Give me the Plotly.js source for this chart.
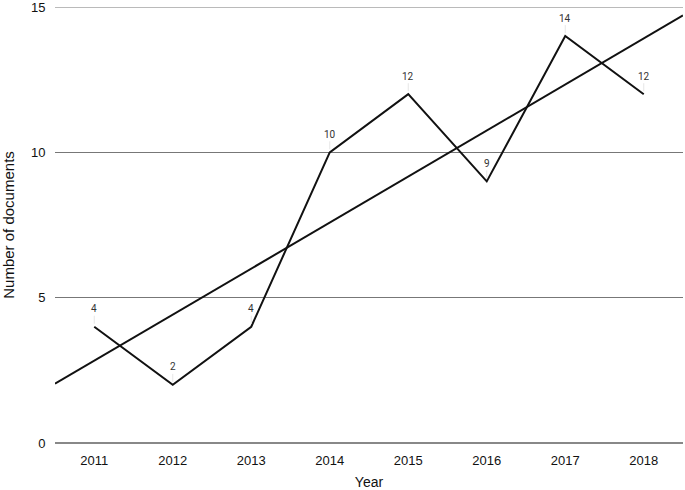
<!DOCTYPE html>
<html>
<head>
<meta charset="utf-8">
<script src="https://cdn.plot.ly/plotly-3.0.1.min.js"></script>
<style>
  body { margin: 0; }
  #chart { width: 685px; height: 490px; }
</style>
</head>
<body>
<div id="chart"></div>
<script>
// ------------------------
// data:
var years = ["2011", "2012", "2013", "2014", "2015", "2016", "2017", "2018"];
var docCounts = [4, 2, 4, 10, 12, 9, 14, 12];
// linear trend, value at left and right edge of the plot
var trendEnds = [2.04, 14.71];
var yTicks = [0, 5, 10, 15];
// ------------------------
var xIdx = years.map((y, i) => i);

var traceDocs = {
  x: xIdx,
  y: docCounts,
  type: "scatter",
  mode: "lines",
  line: {color: "#111", width: 2},
  hoverinfo: "skip"
};
var traceTrend = {
  x: [-0.5, 7.5],
  y: trendEnds,
  type: "scatter",
  mode: "lines",
  line: {color: "#111", width: 2},
  hoverinfo: "skip"
};

// value labels with faint leader lines
var labels = docCounts.map((v, i) => ({
  x: i, y: v, xref: "x", yref: "y",
  text: String(v),
  showarrow: true, arrowhead: 0, arrowwidth: 1,
  arrowcolor: "#e6e6e6",
  ax: 0, ay: -18, standoff: 3,
  font: {family: "Roboto, Arial, sans-serif", size: 10, color: "#333"}
}));

// top grid line sits on the plot edge, plotly drops it, so draw it as a shape
var topGrid = {
  type: "line", xref: "paper", yref: "y",
  x0: 0, x1: 1, y0: yTicks[3], y1: yTicks[3],
  line: {color: "#777", width: 1}
};

var layout = {
  width: 685, height: 490,
  margin: {l: 55, r: 2, t: 7, b: 47},
  showlegend: false,
  paper_bgcolor: "#fff", plot_bgcolor: "#fff",
  font: {family: "Liberation Sans, Arial, sans-serif", color: "#111"},
  xaxis: {
    range: [-0.5, 7.5],
    tickvals: xIdx, ticktext: years,
    showgrid: false, zeroline: false, showline: false,
    ticks: "outside", ticklen: 5, tickcolor: "rgba(0,0,0,0)",
    tickfont: {size: 13},
    title: {text: "Year", font: {size: 14}, standoff: 10}
  },
  yaxis: {
    range: [0, 15],
    tickvals: yTicks,
    showgrid: true, gridcolor: "#777", gridwidth: 1,
    zeroline: true, zerolinecolor: "#888", zerolinewidth: 1.5,
    showline: false,
    ticks: "outside", ticklen: 6, tickcolor: "rgba(0,0,0,0)",
    ticklabeloverflow: "allow",
    tickfont: {size: 13},
    title: {text: "Number of documents", font: {size: 15}, standoff: 14}
  },
  shapes: [topGrid],
  annotations: labels
};

Plotly.newPlot("chart", [traceDocs, traceTrend], layout, {staticPlot: true});
</script>
</body>
</html>
